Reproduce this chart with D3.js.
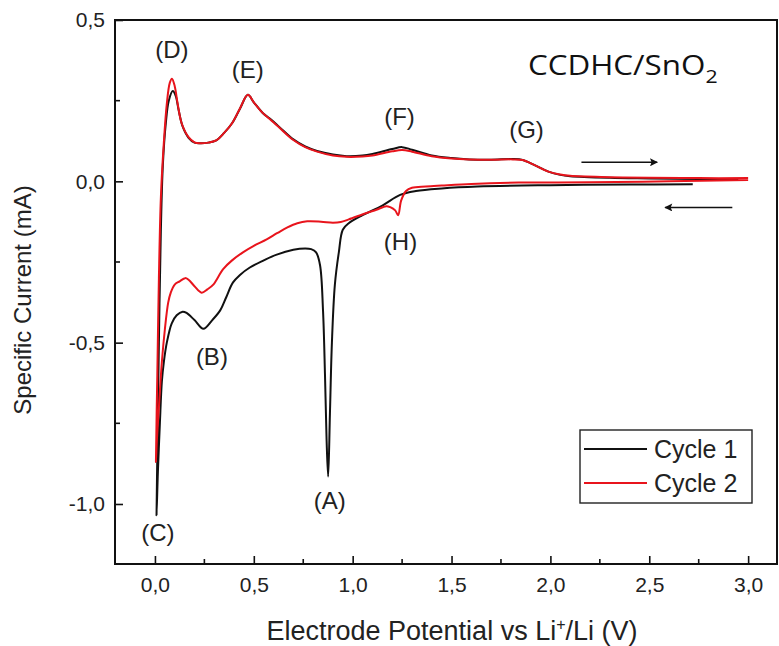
<!DOCTYPE html>
<html>
<head>
<meta charset="utf-8">
<script src="https://cdn.jsdelivr.net/npm/d3@7"></script>
<style>
  html, body { margin: 0; padding: 0; background: #fff; }
  svg { display: block; }
</style>
</head>
<body>
<div id="screen"></div>
<script>
// Cyclic voltammetry, cycle 1 (black): starts at OCV, cathodic sweep to 0 V, anodic back up
const cycle1 = [
  [2.72, -0.009], [2.4, -0.010], [2.0, -0.012], [1.63, -0.016], [1.45, -0.022], [1.32, -0.03],
  [1.24, -0.042], [1.15, -0.075], [1.05, -0.105], [0.98, -0.13], [0.95, -0.15], [0.93, -0.22],
  [0.91, -0.32], [0.895, -0.50], [0.885, -0.72], [0.876, -0.915], [0.868, -0.80], [0.86, -0.60],
  [0.85, -0.40], [0.835, -0.26], [0.815, -0.22], [0.79, -0.21], [0.76, -0.208], [0.70, -0.212],
  [0.616, -0.227], [0.55, -0.245], [0.48, -0.267], [0.43, -0.29], [0.394, -0.314], [0.36, -0.36],
  [0.33, -0.40], [0.29, -0.43], [0.245, -0.457], [0.20, -0.43], [0.16, -0.408], [0.14, -0.404],
  [0.11, -0.415], [0.085, -0.44], [0.06, -0.50], [0.045, -0.56], [0.035, -0.62], [0.025, -0.75],
  [0.015, -0.90], [0.008, -1.035],
  [0.012, -0.85], [0.02, -0.5], [0.03, -0.15], [0.04, 0.05], [0.055, 0.18], [0.07, 0.25],
  [0.09, 0.28], [0.105, 0.265], [0.12, 0.22], [0.14, 0.17], [0.17, 0.135], [0.20, 0.12],
  [0.227, 0.118], [0.27, 0.12], [0.31, 0.127], [0.35, 0.15], [0.39, 0.18], [0.43, 0.225],
  [0.47, 0.268], [0.50, 0.245], [0.545, 0.212], [0.59, 0.19], [0.63, 0.168], [0.70, 0.13],
  [0.76, 0.108], [0.82, 0.094], [0.90, 0.083], [0.97, 0.078], [1.05, 0.08], [1.10, 0.085],
  [1.20, 0.10], [1.25, 0.106], [1.30, 0.098], [1.40, 0.08], [1.50, 0.072], [1.59, 0.068],
  [1.70, 0.067], [1.81, 0.069], [1.86, 0.066], [1.92, 0.05], [1.99, 0.03], [2.05, 0.02],
  [2.10, 0.016], [2.3, 0.011], [2.5, 0.009], [2.75, 0.007], [2.95, 0.006]
]

// Cycle 2 (red): cathodic from 3 V down to 0 V, then anodic back to 3 V
const cycle2 = [
  [3.0, 0.004], [2.6, 0.0], [2.2, -0.003], [1.84, -0.004], [1.6, -0.008], [1.45, -0.013],
  [1.37, -0.016], [1.30, -0.02], [1.27, -0.03], [1.245, -0.06], [1.23, -0.105], [1.215, -0.09],
  [1.19, -0.08], [1.17, -0.077], [1.12, -0.088], [1.07, -0.098], [0.98, -0.118], [0.94, -0.126],
  [0.90, -0.128], [0.84, -0.125], [0.77, -0.124], [0.72, -0.13], [0.67, -0.143], [0.62, -0.16],
  [0.565, -0.18], [0.50, -0.20], [0.445, -0.22], [0.39, -0.245], [0.345, -0.272], [0.295, -0.32],
  [0.265, -0.335], [0.236, -0.345], [0.20, -0.325], [0.17, -0.305], [0.153, -0.30], [0.125, -0.31],
  [0.10, -0.32], [0.08, -0.345], [0.067, -0.376], [0.05, -0.46], [0.035, -0.56], [0.02, -0.70],
  [0.01, -0.80], [0.005, -0.87],
  [0.012, -0.6], [0.02, -0.3], [0.03, -0.05], [0.045, 0.12], [0.06, 0.24], [0.075, 0.305],
  [0.086, 0.318], [0.10, 0.295], [0.115, 0.24], [0.135, 0.18], [0.17, 0.137], [0.20, 0.121],
  [0.227, 0.118], [0.27, 0.12], [0.31, 0.127], [0.35, 0.15], [0.39, 0.18], [0.43, 0.226],
  [0.47, 0.268], [0.50, 0.245], [0.545, 0.212], [0.59, 0.188], [0.63, 0.166], [0.70, 0.128],
  [0.76, 0.106], [0.82, 0.092], [0.90, 0.08], [0.97, 0.076], [1.05, 0.077], [1.10, 0.08],
  [1.20, 0.093], [1.25, 0.097], [1.30, 0.092], [1.40, 0.078], [1.50, 0.071], [1.59, 0.068],
  [1.70, 0.067], [1.81, 0.068], [1.86, 0.066], [1.92, 0.05], [1.99, 0.03], [2.05, 0.021],
  [2.10, 0.017], [2.3, 0.013], [2.5, 0.011], [2.75, 0.01], [3.0, 0.01]
]

const xTicks = [0, 0.5, 1.0, 1.5, 2.0, 2.5, 3.0]
const xMinorTicks = [0.25, 0.75, 1.25, 1.75, 2.25, 2.75]
const yTicks = [0.5, 0, -0.5, -1.0]
const yMinorTicks = [0.25, -0.25, -0.75]

// peak labels, anchored in data units (V, mA)
const peakLabels = [
  { text: '(A)', v: 0.884, i: -0.99 },
  { text: '(B)', v: 0.288, i: -0.543 },
  { text: '(C)', v: 0.015, i: -1.087 },
  { text: '(D)', v: 0.086, i: 0.41 },
  { text: '(E)', v: 0.47, i: 0.348 },
  { text: '(F)', v: 1.237, i: 0.202 },
  { text: '(G)', v: 1.879, i: 0.161 },
  { text: '(H)', v: 1.242, i: -0.186 }
]

// sweep direction arrows [from, to]
const sweepArrows = [
  [[2.157, 0.059], [2.54, 0.059]],
  [[2.92, -0.081], [2.58, -0.081]]
]

const series = [
  { name: 'Cycle 1', color: '#111111', points: cycle1 },
  { name: 'Cycle 2', color: '#e8141c', points: cycle2 }
]

const width = 779
const height = 646
const margin = { top: 20, right: 2, bottom: 82, left: 115 }
const font = "Arial, 'Liberation Sans', sans-serif"
const fmt = d => d3.format('.1f')(d).replace('.', ',').replace('\u2212', '-')

const svg = d3.select('#screen').append('svg')
  .attr('width', width)
  .attr('height', height)

const x = d3.scaleLinear()
  .domain([-0.202, 3.146])
  .range([margin.left, width - margin.right])

const y = d3.scaleLinear()
  .domain([-1.186, 0.5])
  .range([height - margin.bottom, margin.top])

const defs = svg.append('defs')
defs.append('marker')
  .attr('id', 'arrowhead')
  .attr('viewBox', '0 0 10 10')
  .attr('refX', 9).attr('refY', 5)
  .attr('markerWidth', 7).attr('markerHeight', 5)
  .attr('markerUnits', 'strokeWidth')
  .attr('orient', 'auto')
  .append('path')
  .attr('d', 'M0,0 L10,5 L0,10 L2,5 Z')
  .attr('fill', '#111')

defs.append('clipPath').attr('id', 'plot-clip')
  .append('rect')
  .attr('x', margin.left).attr('y', margin.top)
  .attr('width', width - margin.left - margin.right)
  .attr('height', height - margin.top - margin.bottom)

// curves
const line = d3.line()
  .x(d => x(d[0]))
  .y(d => y(d[1]))
  .curve(d3.curveCatmullRom.alpha(0.5))

svg.append('g')
  .attr('clip-path', 'url(#plot-clip)')
  .selectAll('path')
  .data(series)
  .join('path')
  .attr('d', d => line(d.points))
  .attr('fill', 'none')
  .attr('stroke', d => d.color)
  .attr('stroke-width', 2)
  .attr('stroke-linejoin', 'round')

// axes: ticks point inward
const xAxis = svg.append('g')
  .attr('transform', `translate(0,${height - margin.bottom})`)
  .call(d3.axisBottom(x).tickValues(xTicks).tickSize(-8).tickPadding(13).tickFormat(fmt))
xAxis.append('g').selectAll('line')
  .data(xMinorTicks)
  .join('line')
  .attr('x1', d => x(d)).attr('x2', d => x(d))
  .attr('y1', 0).attr('y2', -5)

const yAxis = svg.append('g')
  .attr('transform', `translate(${margin.left},0)`)
  .call(d3.axisLeft(y).tickValues(yTicks).tickSize(-8).tickPadding(10).tickFormat(fmt))
yAxis.append('g').selectAll('line')
  .data(yMinorTicks)
  .join('line')
  .attr('y1', d => y(d)).attr('y2', d => y(d))
  .attr('x1', 0).attr('x2', 5)

for (const axis of [xAxis, yAxis]) {
  axis.select('.domain').remove()
  axis.selectAll('line').attr('stroke', '#111').attr('stroke-width', 1.6)
  axis.selectAll('text')
    .attr('font-family', font)
    .attr('font-size', '21px')
    .attr('fill', '#222')
}

// frame
svg.append('rect')
  .attr('x', margin.left).attr('y', margin.top)
  .attr('width', width - margin.left - margin.right)
  .attr('height', height - margin.top - margin.bottom)
  .attr('fill', 'none')
  .attr('stroke', '#111')
  .attr('stroke-width', 2)

// axis titles
const xTitle = svg.append('text')
  .attr('x', 452).attr('y', 640)
  .attr('text-anchor', 'middle')
  .attr('font-family', font)
  .attr('font-size', '27px')
  .attr('fill', '#222')
xTitle.append('tspan').text('Electrode Potential vs Li')
xTitle.append('tspan').attr('dy', -10).attr('font-size', '16px').text('+')
xTitle.append('tspan').attr('dy', 10).text('/Li (V)')

svg.append('text')
  .attr('transform', 'translate(31,300) rotate(-90)')
  .attr('text-anchor', 'middle')
  .attr('font-family', font)
  .attr('font-size', '24px')
  .attr('fill', '#222')
  .text('Specific Current (mA)')

// material name
const title = svg.append('text')
  .attr('transform', 'translate(528,75) scale(1.12,1)')
  .attr('font-family', "'Open Sans', sans-serif")
  .attr('font-size', '28px')
  .attr('fill', '#111')
title.append('tspan').text('CCDHC/SnO')
title.append('tspan').attr('dy', 8).attr('font-size', '19px').text('2')

// peak labels
svg.append('g')
  .selectAll('text')
  .data(peakLabels)
  .join('text')
  .attr('x', d => x(d.v))
  .attr('y', d => y(d.i))
  .attr('text-anchor', 'middle')
  .attr('dominant-baseline', 'central')
  .attr('font-family', font)
  .attr('font-size', '24px')
  .attr('fill', '#222')
  .text(d => d.text)

// sweep arrows
svg.append('g')
  .selectAll('line')
  .data(sweepArrows)
  .join('line')
  .attr('x1', d => x(d[0][0])).attr('y1', d => y(d[0][1]))
  .attr('x2', d => x(d[1][0])).attr('y2', d => y(d[1][1]))
  .attr('stroke', '#111')
  .attr('stroke-width', 1.6)
  .attr('marker-end', 'url(#arrowhead)')

// legend
const legend = svg.append('g').attr('transform', 'translate(580,430)')
legend.append('rect')
  .attr('width', 172).attr('height', 73)
  .attr('fill', '#fff')
  .attr('stroke', '#222')
  .attr('stroke-width', 1.4)
const legendItem = legend.selectAll('g')
  .data(series)
  .join('g')
  .attr('transform', (d, k) => `translate(0,${19 + k * 34})`)
legendItem.append('line')
  .attr('x1', 4).attr('x2', 67)
  .attr('stroke', d => d.color)
  .attr('stroke-width', 2)
legendItem.append('text')
  .attr('x', 74)
  .attr('dominant-baseline', 'central')
  .attr('font-family', font)
  .attr('font-size', '25px')
  .attr('fill', '#222')
  .text(d => d.name)
</script>
</body>
</html>
